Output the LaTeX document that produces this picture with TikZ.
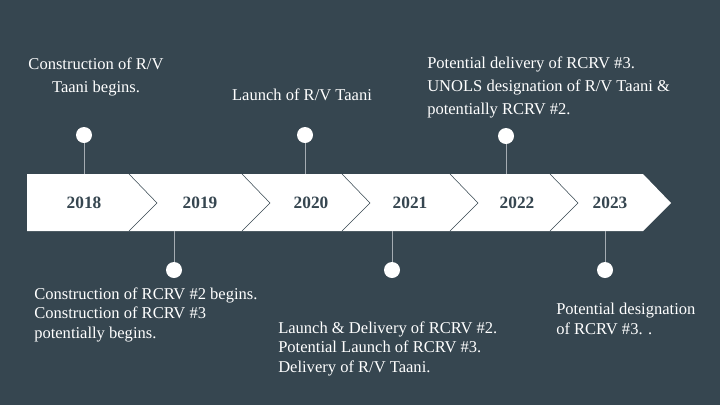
\documentclass[tikz,border=0pt]{standalone}
\usepackage{fontspec}
\setmainfont{Liberation Serif}
\definecolor{slate}{RGB}{54,70,80}
\definecolor{stem}{RGB}{165,172,178}
\tikzset{
  pin/.style={circle, fill=white, inner sep=0pt, minimum size=12pt},
  year/.style={font=\fontsize{13}{15}\selectfont\bfseries, text=slate},
  event/.style={text=white, inner sep=0pt, font=\fontsize{12.4}{17}\selectfont},
  eventlow/.style={event, align=left, font=\fontsize{12.4}{14.5}\selectfont}
}
\begin{document}
\begin{tikzpicture}[x=0.75pt, y=-0.75pt]
\fill [slate] (0,0) rectangle (720,405);
\coordinate (T) at (27,174);
\coordinate (B) at (27,231);
\fill [white] (T) -- (643,174) -- (671,203) -- (643,231) -- (B) -- cycle;
\foreach \x in {129,242,342,450,550}
  \draw [slate, line width=0.4pt] (\x,174) -- ++(28,29) -- ++(-28,28);
% years on the band
\node [year] (y2018) at (84,203) {2018};
\node [year] (y2019) at (200,203) {2019};
\node [year] (y2020) at (311,203) {2020};
\node [year] (y2021) at (410,203) {2021};
\node [year] (y2022) at (517,203) {2022};
\node [year] (y2023) at (610,203) {2023};
% pins above
\node [pin] (p2018) at (84,135) {};
\node [pin] (p2020) at (305,135) {};
\node [pin] (p2022) at (506,136) {};
\foreach \p in {p2018,p2020,p2022}
  \draw [stem] (\p) -- (\p |- T);
% pins below
\node [pin] (p2019) at (174,270) {};
\node [pin] (p2021) at (392,270) {};
\node [pin] (p2023) at (605,270) {};
\foreach \p in {p2019,p2021,p2023}
  \draw [stem] (\p) -- (\p |- B);
% texts (base = last line)
\node [event, align=center, anchor=base] (e2018) at (96,92) {Construction of R/V\\Taani begins.};
\node [event, anchor=base] (e2020) at (302,100) {Launch of R/V Taani};
\node [event, align=left, anchor=base west] (e2022) at (427,114) {Potential delivery of RCRV \#3.\\UNOLS designation of R/V Taani \&\\potentially RCRV \#2.};
\node [eventlow, anchor=base west] (e2019) at (34,338) {Construction of RCRV \#2 begins.\\Construction of RCRV \#3\\potentially begins.};
\node [eventlow, anchor=base west] (e2021) at (278,372) {Launch \& Delivery of RCRV \#2.\\Potential Launch of RCRV \#3.\\Delivery of R/V Taani.};
\node [eventlow, anchor=base west] (e2023) at (556,334) {Potential designation\\of RCRV \#3. .};
\end{tikzpicture}
\end{document}
